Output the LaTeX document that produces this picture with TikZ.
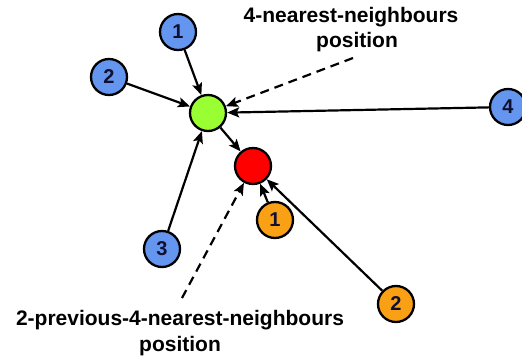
\documentclass[tikz,border=0pt]{standalone}
\usepackage{fontspec}
\setmainfont{Liberation Sans}
\usetikzlibrary{arrows.meta}
\definecolor{cblue}{RGB}{100,150,240}
\definecolor{cgreen}{RGB}{153,255,51}
\definecolor{cred}{RGB}{255,0,0}
\definecolor{corange}{RGB}{250,160,20}
\definecolor{cnum}{RGB}{16,16,48}
\tikzset{
  ball/.style={circle, draw=black, line width=2.3pt, minimum size=36pt, inner sep=0pt,
    font=\fontsize{20}{20}\selectfont\bfseries, text=cnum},
  bluei/.style={ball, fill=cblue},
  orangei/.style={ball, fill=corange},
  conn/.style={line width=2.2pt, -{Stealth[length=12pt,width=10pt,inset=2.5pt]}},
  dconn/.style={conn, dash pattern=on 9pt off 6pt},
  lbl/.style={anchor=base, inner sep=0pt, font=\fontsize{21}{25}\selectfont\bfseries}
}
\begin{document}
\begin{tikzpicture}[x=1pt,y=-1pt]
\useasboundingbox (0,0) rectangle (522,356);
\clip (0,0) rectangle (522,356);
\node[ball, fill=cgreen] (g) at (208,113) {};
\node[ball, fill=cred] (r) at (253,166) {};
\node[bluei] (b1) at (178,32) {1};
\node[bluei] (b2) at (109,77) {2};
\node[bluei] (b3) at (162,249) {3};
\node[bluei] (b4) at (508,107) {4};
\node[orangei] (o1) at (275,220) {1};
\node[orangei] (o2) at (396,304) {2};
\node[lbl] (t1) at (351,22) {4-nearest-neighbours};
\node[lbl] (t2) at (357,47) {position};
\node[lbl] (u1) at (180,325) {2-previous-4-nearest-neighbours};
\node[lbl] (u2) at (180,351) {position};
\coordinate (dt) at (353,58);
\coordinate (db) at (182,298);
\draw[conn] (b1) -- (g);
\draw[conn] (b2) -- (g);
\draw[conn] (b3) -- (g);
\draw[conn] (b4) -- (g);
\draw[conn] (g) -- (r);
\draw[conn] (o1) -- (r);
\draw[conn] (o2) -- (r);
\draw[dconn] (dt) -- (g);
\draw[dconn] (db) -- (r);
\end{tikzpicture}
\end{document}
